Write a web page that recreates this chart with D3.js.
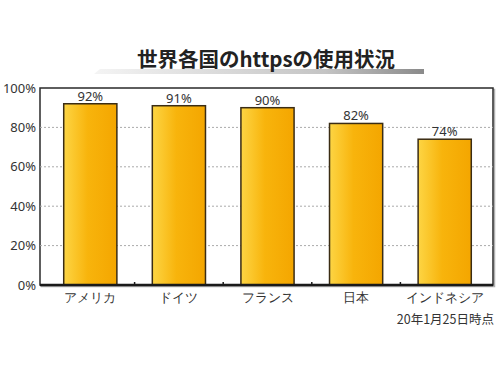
<!DOCTYPE html>
<html>
<head>
<meta charset="utf-8">
<script src="https://cdn.jsdelivr.net/npm/d3@7"></script>
<style>
  body { margin: 0; background: #fff; }
  svg { display: block; font-family: "Noto Sans CJK JP", "Noto Sans", sans-serif; }
</style>
</head>
<body>
<div id="chart"></div>
<script>
// Chart data
const countries = ['アメリカ', 'ドイツ', 'フランス', '日本', 'インドネシア'];
const httpsShare = [92, 91, 90, 82, 74];
const yTicks = [0, 20, 40, 60, 80, 100];
const titleText = '世界各国のhttpsの使用状況';
const noteText = '20年1月25日時点';

const W = 500, H = 375;
const frame = { left: 40, right: 493, top: 88, bottom: 285 };

const svg = d3.select('#chart').append('svg')
    .attr('width', W)
    .attr('height', H);

const defs = svg.append('defs');

// Bar gradient: light yellow on the left to orange on the right
const barGrad = defs.append('linearGradient')
    .attr('id', 'bar-grad')
    .attr('x1', '0%').attr('x2', '100%')
    .attr('y1', '0%').attr('y2', '0%');
barGrad.append('stop').attr('offset', '0%').attr('stop-color', '#fdd544');
barGrad.append('stop').attr('offset', '45%').attr('stop-color', '#f8b40c');
barGrad.append('stop').attr('offset', '100%').attr('stop-color', '#f4a600');

// Gray swoosh under the title
const swooshGrad = defs.append('linearGradient')
    .attr('id', 'swoosh-grad')
    .attr('x1', '0%').attr('x2', '100%');
swooshGrad.append('stop').attr('offset', '0%').attr('stop-color', '#f4f4f4');
swooshGrad.append('stop').attr('offset', '70%').attr('stop-color', '#c4c4c4');
swooshGrad.append('stop').attr('offset', '100%').attr('stop-color', '#8a8a8a');

// Scales
const x = d3.scaleBand()
    .domain(countries)
    .range([46, 489])
    .paddingInner(0.4)
    .paddingOuter(0.2);

const y = d3.scaleLinear()
    .domain([0, 100])
    .range([frame.bottom, frame.top]);

// Title swoosh
svg.append('path')
    .attr('d', 'M100,69 L424,69 L424,74 L94,74 Z')
    .attr('fill', 'url(#swoosh-grad)');

// Title
svg.append('text')
    .attr('x', 266)
    .attr('y', 67)
    .attr('text-anchor', 'middle')
    .attr('font-size', 20.5)
    .attr('font-weight', 'bold')
    .attr('fill', '#222')
    .text(titleText);

// Frame shadow and frame
svg.append('rect')
    .attr('x', frame.left + 1.5)
    .attr('y', frame.top + 1.5)
    .attr('width', frame.right - frame.left)
    .attr('height', frame.bottom - frame.top)
    .attr('fill', 'none')
    .attr('stroke', '#b0b0b0')
    .attr('stroke-width', 1.5);

svg.append('rect')
    .attr('x', frame.left)
    .attr('y', frame.top)
    .attr('width', frame.right - frame.left)
    .attr('height', frame.bottom - frame.top)
    .attr('fill', '#fff')
    .attr('stroke', '#2a2a2a')
    .attr('stroke-width', 1.5);

// Dotted gridlines
svg.append('g')
    .selectAll('line')
    .data(yTicks.filter(d => d > 0 && d < 100))
    .enter()
    .append('line')
    .attr('x1', frame.left)
    .attr('x2', frame.right)
    .attr('y1', d => y(d))
    .attr('y2', d => y(d))
    .attr('stroke', '#aaa')
    .attr('stroke-width', 1)
    .attr('stroke-dasharray', '2,2');

// Y axis labels
const yAxis = d3.axisLeft(y)
    .tickValues(yTicks)
    .tickSize(0)
    .tickPadding(4)
    .tickFormat(d => d + '%');

svg.append('g')
    .attr('transform', `translate(${frame.left},0)`)
    .call(yAxis)
    .call(g => g.select('.domain').remove())
    .selectAll('text')
    .attr('font-size', 13)
    .attr('font-family', '"Noto Sans", sans-serif')
    .attr('fill', '#333');

// Bars
svg.append('g')
    .selectAll('rect')
    .data(httpsShare)
    .enter()
    .append('rect')
    .attr('x', (d, i) => x(countries[i]))
    .attr('y', d => y(d))
    .attr('width', x.bandwidth())
    .attr('height', d => y(0) - y(d))
    .attr('fill', 'url(#bar-grad)')
    .attr('stroke', '#3a2c14')
    .attr('stroke-width', 1.5);

// Value labels
svg.append('g')
    .selectAll('text')
    .data(httpsShare)
    .enter()
    .append('text')
    .attr('x', (d, i) => x(countries[i]) + x.bandwidth() / 2)
    .attr('y', d => y(d) - 3)
    .attr('text-anchor', 'middle')
    .attr('font-size', 13)
    .attr('font-family', '"Noto Sans", sans-serif')
    .attr('fill', '#333')
    .text(d => d + '%');

// Bottom axis: thick base line, small ticks between categories
const xAxis = d3.axisBottom(x)
    .tickSize(0)
    .tickPadding(8);

const xg = svg.append('g')
    .attr('transform', `translate(0,${frame.bottom})`)
    .call(xAxis);

xg.select('.domain').remove();
xg.selectAll('text')
    .attr('font-size', 12.5)
    .attr('fill', '#333');

svg.append('line')
    .attr('x1', frame.left)
    .attr('x2', frame.right)
    .attr('y1', frame.bottom)
    .attr('y2', frame.bottom)
    .attr('stroke', '#1a1a1a')
    .attr('stroke-width', 2.5);

const step = x.step();
svg.append('g')
    .selectAll('line')
    .data(countries.slice(1))
    .enter()
    .append('line')
    .attr('x1', d => x(d) - step * x.paddingInner() / 2)
    .attr('x2', d => x(d) - step * x.paddingInner() / 2)
    .attr('y1', frame.bottom)
    .attr('y2', frame.bottom - 3)
    .attr('stroke', '#1a1a1a')
    .attr('stroke-width', 1.5);

// Footnote
svg.append('text')
    .attr('x', 494)
    .attr('y', 324)
    .attr('text-anchor', 'end')
    .attr('font-size', 12.5)
    .attr('fill', '#333')
    .text(noteText);
</script>
</body>
</html>
